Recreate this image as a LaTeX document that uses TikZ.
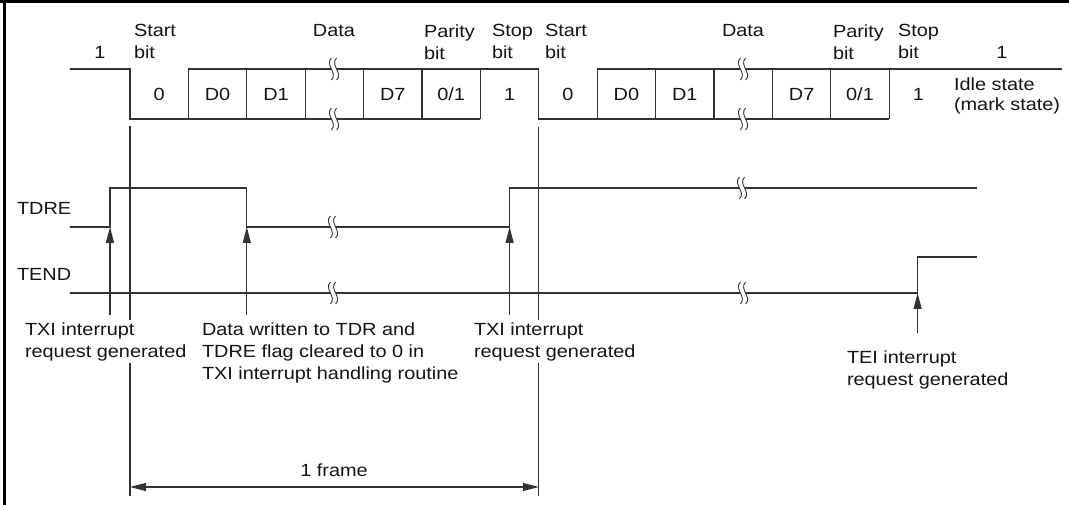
\documentclass[tikz,border=0pt]{standalone}
\usepackage{fontspec}
\setmainfont{Liberation Sans}[FakeStretch=1.13]
\usetikzlibrary{arrows.meta}
\tikzset{
  txt/.style={inner sep=0pt, outer sep=0pt, font=\fontsize{17.6}{22}\selectfont, text=black!92},
  ml/.style={txt, align=left, anchor=north west},
  wave/.style={line width=1.3pt, draw=black!80, line join=miter},
  guide/.style={line width=1.1pt, draw=black!80},
  arr/.style={line width=1.1pt, draw=black!80, -{Triangle[length=16pt,width=8pt]}},
  dimarr/.style={line width=1.1pt, draw=black!80, {Triangle[length=16pt,width=8pt]}-{Triangle[length=16pt,width=8pt]}},
  brk/.pic={
    \fill[white] (-2.6,-2.2) rectangle (2.6,2.2);
    \draw[line width=0.9pt, black!80] (-2.6,-11) .. controls (-9.6,-4) and (4.4,4) .. (-2.6,11);
    \draw[line width=0.9pt, black!80] (2.6,-11) .. controls (-4.4,-4) and (9.6,4) .. (2.6,11);
  }
}
\begin{document}
\begin{tikzpicture}[x=1pt,y=-1pt]
\useasboundingbox (0,0) rectangle (1069,505);
% frame
\draw[line width=2.6pt] (0,1.3) -- (1069,1.3);
\draw[line width=3pt] (4.5,0) -- (4.5,505);

% ---------- serial data waveform ----------
\draw[wave] (70,69) -- (130,69) -- (130,119) -- (480.4,119);
\draw[wave] (188.4,69) -- (538.8,69) -- (538.8,119) -- (889.2,119);
\draw[wave] (597.2,69) -- (1062,69);
\foreach \x in {188.4,246.8,305.2,363.6,422,480.4,597.2,655.6,714,772.4,830.8,889.2}
  \draw[wave] (\x,69) -- (\x,119);
\pic at (334,69) {brk};
\pic at (334,119) {brk};
\pic at (743,69) {brk};
\pic at (743,119) {brk};

% labels above
\node[txt, anchor=base] (one1) at (100,59) {1};
\node[ml] (start1) at (134,24.3) {Start\\bit};
\node[txt, anchor=base] (data1) at (334,37) {Data};
\node[ml] (par1) at (424,24.3) {Parity\\bit};
\node[ml] (stop1) at (492,24.3) {Stop\\bit};
\node[ml] (start2) at (545,24.3) {Start\\bit};
\node[txt, anchor=base] (data2) at (743,37) {Data};
\node[ml] (par2) at (833,24.3) {Parity\\bit};
\node[ml] (stop2) at (898,24.3) {Stop\\bit};
\node[txt, anchor=base] (one2) at (1002,59) {1};
\node[ml, font=\fontsize{17.6}{20.5}\selectfont] (idle) at (954,77.3) {Idle state\\(mark state)};

% cell contents
\node[txt, anchor=base] (c0a) at (159.2,100.5) {0};
\node[txt, anchor=base] (c1a) at (217.6,100.5) {D0};
\node[txt, anchor=base] (c2a) at (276,100.5) {D1};
\node[txt, anchor=base] (c3a) at (392.8,100.5) {D7};
\node[txt, anchor=base] (c4a) at (451.2,100.5) {0/1};
\node[txt, anchor=base] (c5a) at (509.6,100.5) {1};
\node[txt, anchor=base] (c0b) at (568,100.5) {0};
\node[txt, anchor=base] (c1b) at (626.4,100.5) {D0};
\node[txt, anchor=base] (c2b) at (684.8,100.5) {D1};
\node[txt, anchor=base] (c3b) at (801.6,100.5) {D7};
\node[txt, anchor=base] (c4b) at (860,100.5) {0/1};
\node[txt, anchor=base] (c5b) at (918.4,100.5) {1};

% ---------- TDRE / TEND ----------
\node[txt, anchor=base west] (tdre) at (17,215) {TDRE};
\node[txt, anchor=base west] (tend) at (17,281) {TEND};
\coordinate (txiA) at (110,227);
\coordinate (clr) at (246.8,227);
\coordinate (txiB) at (509.6,227);
\coordinate (tei) at (917.6,293);
\draw[wave] (70,227) -- (txiA) -- (110,188) -- (246.8,188) -- (clr) -- (txiB) -- (509.6,188) -- (977,188);
\draw[wave] (70,293) -- (tei) -- (917.6,257) -- (977,257);
\pic at (333,227) {brk};
\pic at (742,188) {brk};
\pic at (333,293) {brk};
\pic at (743,293) {brk};

% guide lines
\coordinate (g1t) at (130,126);
\coordinate (g1m) at (130,320);
\coordinate (g1n) at (130,363);
\coordinate (g1b) at (130,496);
\coordinate (g2t) at (538.8,127);
\coordinate (g2m) at (538.8,320);
\coordinate (g2n) at (538.8,363);
\coordinate (g2b) at (538.8,496);
\draw[guide] (g1t) -- (g1m) (g1n) -- (g1b);
\draw[guide] (g2t) -- (g2m) (g2n) -- (g2b);

% arrows
\coordinate (a1) at (110,315);
\coordinate (a2) at (246.8,315);
\coordinate (a3) at (509.6,315);
\coordinate (a4) at (917.6,333);
\draw[arr] (a1) -- (txiA);
\draw[arr] (a2) -- (clr);
\draw[arr] (a3) -- (txiB);
\draw[arr] (a4) -- (tei);

% annotations
\node[ml] (lblA) at (25,322.3) {TXI interrupt\\request generated};
\node[ml] (lblB) at (202,322.3) {Data written to TDR and\\TDRE flag cleared to 0 in\\TXI interrupt handling routine};
\node[ml] (lblC) at (474,322.3) {TXI interrupt\\request generated};
\node[ml] (lblD) at (847,350.3) {TEI interrupt\\request generated};

% 1 frame
\coordinate (fL) at (130,487);
\coordinate (fR) at (538.8,487);
\draw[dimarr] (fL) -- (fR);
\node[txt, anchor=base] (frame) at (334,476) {1 frame};
\end{tikzpicture}
\end{document}
